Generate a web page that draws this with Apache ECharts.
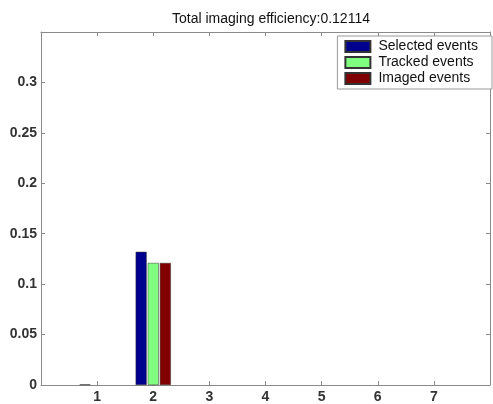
<!DOCTYPE html>
<html><head><meta charset="utf-8">
<script src="https://cdn.jsdelivr.net/npm/echarts@6/dist/echarts.min.js"></script>
<style>html,body{margin:0;padding:0;background:#fff}#c{width:493px;height:404px}</style>
</head><body><div id="c"></div>
<script>
const positions = [1, 2, 3, 4, 5, 6, 7];
const selected = [0.0006, 0.132, null, null, null, null, null];
const tracked  = [null, 0.121, null, null, null, null, null];
const imaged   = [null, 0.121, null, null, null, null, null];
const seriesNames = ['Selected events', 'Tracked events', 'Imaged events'];
const titleText = 'Total imaging efficiency:0.12114';

const colors = ['#00008f', '#80ff80', '#800000'];
const font = 'Liberation Sans';
const axisCol = '#8a8a8a';
const chart = echarts.init(document.getElementById('c'));
const mk = (arr) => positions.map((p, i) => [p, arr[i]]);
const baseAxis = {
  axisLine: { show: true, onZero: false, lineStyle: { color: axisCol, width: 1 } },
  axisTick: { show: true, inside: true, length: 4, lineStyle: { color: axisCol } },
  splitLine: { show: false }
};
const lbl = { fontFamily: font, fontSize: 14, fontWeight: 'bold', color: '#333' };
chart.setOption({
  animation: false,
  title: { text: titleText, left: 266, top: 7, textAlign: 'center',
    textStyle: { fontFamily: font, fontSize: 14, fontWeight: 'normal', color: '#111' } },
  legend: {
    data: seriesNames, orient: 'vertical', right: 1, top: 36,
    itemWidth: 25, itemHeight: 11, itemGap: 1,
    padding: [3, 14, 3, 7], borderColor: '#999', borderWidth: 1, backgroundColor: '#fff',
    textStyle: { fontFamily: font, fontSize: 14, lineHeight: 15, color: '#111', padding: [0, 0, 0, 3] },
    icon: 'rect'
  },
  grid: { left: 41, right: 1, top: 32, bottom: 17, containLabel: false },
  xAxis: [
    Object.assign({}, baseAxis, { type: 'value', min: 0, max: 8, interval: 1, position: 'bottom',
      axisLabel: Object.assign({ margin: 5, formatter: v => (v === 0 || v === 8) ? '' : String(v) }, lbl) }),
    Object.assign({}, baseAxis, { type: 'value', min: 0, max: 8, interval: 1, position: 'top',
      axisLabel: { show: false } })
  ],
  yAxis: [
    Object.assign({}, baseAxis, { type: 'value', min: 0, max: 0.35, interval: 0.05, position: 'left',
      axisLabel: Object.assign({ margin: 4, formatter: v => v >= 0.349 ? '' : String(+v.toFixed(2)) }, lbl) }),
    Object.assign({}, baseAxis, { type: 'value', min: 0, max: 0.35, interval: 0.05, position: 'right',
      axisLabel: { show: false } })
  ],
  series: [selected, tracked, imaged].map((arr, i) => ({
    name: seriesNames[i], type: 'bar', data: mk(arr),
    barWidth: 11, barGap: '10%',
    itemStyle: { color: colors[i], borderColor: '#333', borderWidth: 0.5 }
  }))
});
</script></body></html>
